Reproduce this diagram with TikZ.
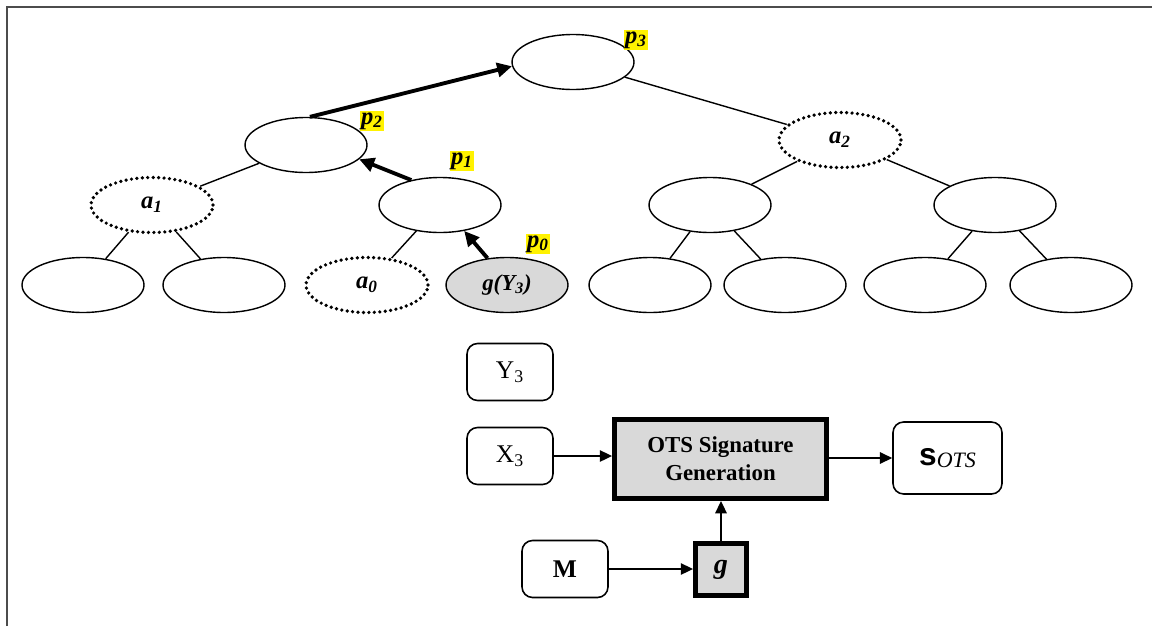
\documentclass[tikz,border=0pt]{standalone}
\usepackage{fontspec}
\setmainfont{Liberation Serif}
\setsansfont{Liberation Sans}
\usetikzlibrary{shapes.geometric,arrows.meta}

\begin{document}
\begin{tikzpicture}[x=0.02cm,y=-0.02cm,
    treenode/.style={ellipse,draw,line width=0.8pt,minimum width=2.44cm,minimum height=1.1cm,inner sep=0pt,
      font=\fontsize{14}{16}\selectfont\bfseries\itshape},
    sibnode/.style={treenode,line width=2.1pt,dash pattern=on 0pt off 3.1pt,line cap=round},
    leafnode/.style={treenode,fill=gray!30,font=\fontsize{13}{15}\selectfont\bfseries\itshape},
    plabel/.style={fill=yellow,inner sep=0.7pt,font=\fontsize{14}{15}\selectfont\bfseries\itshape},
    inbox/.style={draw,line width=0.9pt,rounded corners=6pt,minimum width=1.72cm,minimum height=1.14cm,
      font=\fontsize{14.5}{16}\selectfont},
    funcbox/.style={draw,line width=2.8pt,fill=gray!30,inner sep=0pt,align=center,
      font=\fontsize{13}{16}\selectfont\bfseries},
    edge/.style={line width=0.8pt},
    patharr/.style={line width=2.2pt,-{Triangle[length=8.5pt,width=8pt]}},
    flowarr/.style={line width=0.9pt,-{Triangle[length=7pt,width=6.5pt]}}]
  % 枠
  \useasboundingbox (0,0) rectangle (1152,626);
  \draw[line width=0.6pt,black!70] (7,626) -- (7,7) -- (1152,7);
  % 木のノード
  \node[treenode] (root) at (573,62) {};
  \node[treenode] (n2) at (306,145) {};
  \node[sibnode] (a2) at (840,140) {a\textsubscript{2}};
  \node[sibnode] (a1) at (152,205) {a\textsubscript{1}};
  \node[treenode] (n1) at (440,205) {};
  \node[treenode] (m1) at (710,205) {};
  \node[treenode] (m2) at (995,205) {};
  \node[treenode] (l1) at (83,285) {};
  \node[treenode] (l2) at (224,285) {};
  \node[sibnode] (a0) at (367,285) {a\textsubscript{0}};
  \node[leafnode] (g3) at (507,285) {g(Y\textsubscript{3})};
  \node[treenode] (r1) at (650,285) {};
  \node[treenode] (r2) at (785,285) {};
  \node[treenode] (r3) at (925,285) {};
  \node[treenode] (r4) at (1071,285) {};
  % 枝
  \draw[edge] (root) -- (a2);
  \draw[edge] (n2) -- (a1);
  \draw[edge] (a1) -- (l1);
  \draw[edge] (a1) -- (l2);
  \draw[edge] (n1) -- (a0);
  \draw[edge] (a2) -- (m1);
  \draw[edge] (a2) -- (m2);
  \draw[edge] (m1) -- (r1);
  \draw[edge] (m1) -- (r2);
  \draw[edge] (m2) -- (r3);
  \draw[edge] (m2) -- (r4);
  % 認証パス
  \draw[patharr] (g3.126) -- (n1.-47);
  \draw[patharr] (n1.139) -- (n2.-15);
  \draw[patharr] (n2.82) -- (root.184);
  \node[plabel] (p0) at (538,244) {p\textsubscript{0}};
  \node[plabel] (p1) at (462,161) {p\textsubscript{1}};
  \node[plabel] (p2) at (372,121) {p\textsubscript{2}};
  \node[plabel] (p3) at (636,40) {p\textsubscript{3}};
  % 署名生成
  \node[inbox] (y3) at (510,372) {Y\textsubscript{3}};
  \node[inbox] (x3) at (510,456) {X\textsubscript{3}};
  \node[inbox,font=\fontsize{14.5}{16}\selectfont\bfseries] (msg) at (565,569) {M};
  \node[funcbox,minimum width=4.24cm,minimum height=1.58cm] (ots) at (720.5,459) {OTS Signature\\Generation};
  \node[funcbox,minimum width=1.02cm,minimum height=1.04cm,font=\fontsize{16}{16}\selectfont\bfseries\itshape] (gf) at (721,569.5) {g};
  \node[inbox,minimum width=2.18cm,minimum height=1.44cm] (sots) at (947.5,458)
    {{\sffamily\bfseries\fontsize{18}{18}\selectfont s}\raisebox{-1.5pt}{\fontsize{12.5}{12}\selectfont\itshape OTS}};
  \draw[flowarr] (x3.east) -- (x3.east -| ots.west);
  \draw[flowarr] (sots.west -| ots.east) -- (sots.west);
  \draw[flowarr] (msg.east) -- (msg.east -| gf.west);
  \draw[flowarr] (gf.north) -- (gf.north |- ots.south);
\end{tikzpicture}
\end{document}
